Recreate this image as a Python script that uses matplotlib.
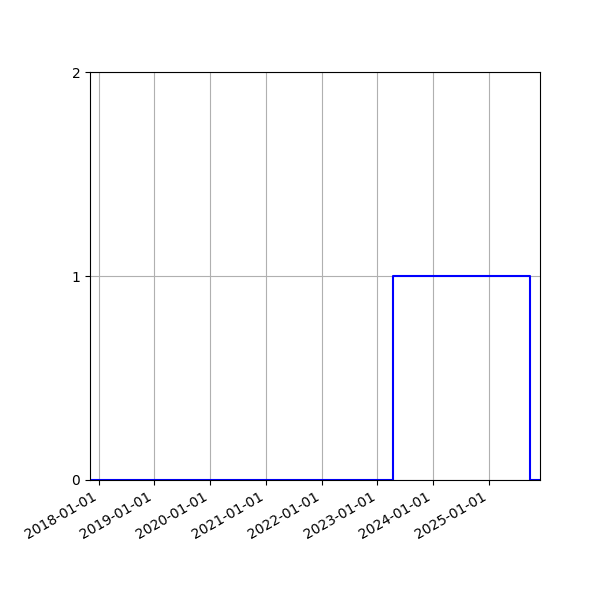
import matplotlib
matplotlib.use('Agg')
import matplotlib.pyplot as plt
import matplotlib.dates as mdates
import pandas as pd

# Данные: моменты переключения состояния
dates = pd.to_datetime(['2017-11-06', '2023-04-12', '2025-09-27', '2025-12-01'])
states = [0, 1, 0, 0]

fig = plt.figure(figsize=(6, 6), dpi=100)
ax = fig.add_subplot(111)
ax.step(dates, states, where='post', color='b')

ax.set_xlim(dates[0], dates[-1])
ax.set_ylim(0, 2)
ax.set_yticks([0, 1, 2])

ax.xaxis.set_major_locator(mdates.YearLocator())
ax.xaxis.set_major_formatter(mdates.DateFormatter('%Y-%m-%d'))
ax.grid(True)

fig.autofmt_xdate()
fig.subplots_adjust(left=0.15, right=0.9, top=0.88, bottom=0.2)
fig.savefig('out.png')
